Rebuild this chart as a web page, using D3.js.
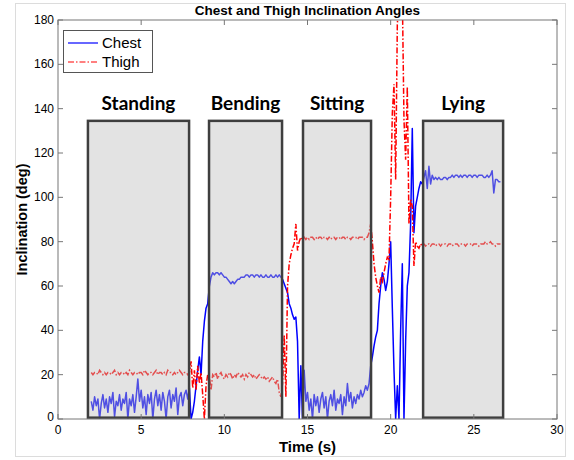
<!DOCTYPE html>
<html><head><meta charset="utf-8">
<script src="https://cdn.jsdelivr.net/npm/d3@7"></script>
<style>body{margin:0;background:#fff}svg{display:block}</style>
</head><body>
<script>
// ---- data ----
const sampleStart = 2.0, sampleStep = 0.1; // seconds
const chest = [
 8,4,10,6,9,0,7,11,5,9, 3,10,7,12,1,8,6,11,4,9, 7,12,0,9,6,11,3,10,18,8,
 13,5,10,2,11,7,12,0,9,13, 6,11,4,12,8,0,10,13,5,11, 8,14,2,10,12,6,11,13,9,14,
 0,3,8,15,22,28,20,35,44,50,52,60,
 64,66,65,66,66,65,66,65,64,64, 63,62,61,62,61,62,63,63,64,64, 64,65,65,64,65,65,64,65,65,64,
 65,64,64,65,64,64,65,64,64,65, 64,65,64,
 63,61,59,57,52,50,47,45,46,35,0,24,0,
 22,8,12,4,9,0,11,6,10,3, 9,12,5,10,0,8,11,6,13,4, 9,7,11,2,10,6,16,8,12,5, 10,7,11,9,13,10,12,15,13,
 16,24,28,33,37,40,52,60,66,63,58,62,70, 80,50,22,0,15,0,40,70,0,35, 60,66,88,131,84,96,100,104,107,106,
 109,112,104,114,106,110,108,109,108,109, 108,108,109,109,108,109,109,110,109,110,
 110,109,110,109,110,110,109,110,110,109, 110,110,109,110,110,110,109,109,110,109,
 110,112,102,108,108,107,107
];
const thigh = [
 21,20,21,21,20,22,21,20,21,20, 21,21,20,21,22,20,21,20,21,21, 20,21,20,22,21,20,21,21,20,21,
 21,20,22,21,20,21,21,20,21,22, 20,21,21,20,21,20,22,21,21,20, 21,20,21,22,21,20,21,21,20,21,
 26,14,22,13,24,16,21,11,0,15,20,19,
 13,20,19,21,18,20,21,19,18,20, 19,21,20,18,20,19,21,20,19,20, 18,20,19,21,20,19,20,18,19,20,
 19,18,19,18,19,17,18,19,17,16, 18,12,10,
 16,38,10,60,70,74,77,79,88,76,80,82,81,
 82,81,82,81,82,82,81,82,81,82, 82,81,82,82,81,82,81,82,82,81, 82,82,81,82,82,81,82,82,81,82, 82,82,81,82,82,82,81,82,82,
 84,88,80,70,64,60,57,64,62,66,70,73,72, 100,138,151,108,178,190,186,192,135,117, 150,88,99,96,69,80,78,77,79,78,
 79,78,79,79,78,79,79,78,79,79, 78,79,79,79,78,79,79,78,79,79,
 79,78,79,79,79,78,79,79,79,78, 79,79,79,78,79,79,79,80,79,79,
 80,79,79,78,79,79,79
];
const activities = ["Standing","Bending","Sitting","Lying"];
const boxStart = [1.8, 9.08, 14.73, 21.95];
const boxEnd   = [7.88, 13.47, 18.82, 26.76];
const boxTop = 134.5, boxBottom = 0.6;
const xTicks = [0,5,10,15,20,25,30];
const yTicks = [0,20,40,60,80,100,120,140,160,180];
const seriesNames = ["Chest","Thigh"];

// ---- layout ----
const W = 574, H = 460;
const L = 58, R = 557, T = 20, B = 419;
const svg = d3.select("body").append("svg").attr("width", W).attr("height", H)
  .style("font-family", "Arial, 'Liberation Sans', sans-serif");

svg.append("rect").attr("x",15.5).attr("y",3.5).attr("width",550).attr("height",453)
  .attr("fill","none").attr("stroke","#dcdcdc");

const x = d3.scaleLinear().domain([0,30]).range([L,R]);
const y = d3.scaleLinear().domain([0,180]).range([B,T]);

svg.append("defs").append("clipPath").attr("id","clip")
  .append("rect").attr("x",L).attr("y",T).attr("width",R-L).attr("height",B-T);

const tOf = i => sampleStart + i*sampleStep;
const line = d3.line().x((d,i)=>x(tOf(i))).y(d=>y(d));

const plot = svg.append("g").attr("clip-path","url(#clip)");
plot.append("path").datum(chest).attr("d", line)
  .attr("fill","none").attr("stroke","#0000ff").attr("stroke-width",1.5).attr("stroke-linejoin","round");
plot.append("path").datum(thigh).attr("d", line)
  .attr("fill","none").attr("stroke","#ff0000").attr("stroke-width",1.5)
  .attr("stroke-dasharray","6,2,1.5,2");

// activity boxes
const boxes = svg.append("g");
activities.forEach((a,i)=>{
  boxes.append("rect").attr("x",x(boxStart[i])).attr("y",y(boxTop))
    .attr("width",x(boxEnd[i])-x(boxStart[i])).attr("height",y(boxBottom)-y(boxTop))
    .attr("fill","#bdbdbd").attr("fill-opacity",0.42)
    .attr("stroke","#3f3f3f").attr("stroke-width",2.5);
  boxes.append("text").attr("x",(x(boxStart[i])+x(boxEnd[i]))/2).attr("y",y(boxTop)-11)
    .attr("text-anchor","middle").attr("font-family","Lato, 'Open Sans', sans-serif")
    .attr("font-weight","bold").attr("font-size",19).text(a);
});

// axes box
const axColor = "#777";
svg.append("rect").attr("x",L).attr("y",T).attr("width",R-L).attr("height",B-T)
  .attr("fill","none").attr("stroke",axColor).attr("stroke-width",1);
const ax = svg.append("g").attr("font-size",12).attr("fill","#000");
xTicks.forEach(v=>{
  ax.append("line").attr("x1",x(v)).attr("x2",x(v)).attr("y1",B).attr("y2",B-5).attr("stroke",axColor);
  ax.append("line").attr("x1",x(v)).attr("x2",x(v)).attr("y1",T).attr("y2",T+5).attr("stroke",axColor);
  ax.append("text").attr("x",x(v)).attr("y",B+15).attr("text-anchor","middle").text(v);
});
yTicks.forEach(v=>{
  ax.append("line").attr("x1",L).attr("x2",L+5).attr("y1",y(v)).attr("y2",y(v)).attr("stroke",axColor);
  ax.append("line").attr("x1",R).attr("x2",R-5).attr("y1",y(v)).attr("y2",y(v)).attr("stroke",axColor);
  ax.append("text").attr("x",L-4).attr("y",y(v)+(v===0?2:4)).attr("text-anchor","end").text(v);
});

// titles
svg.append("text").attr("x",(L+R)/2).attr("y",15).attr("text-anchor","middle")
  .attr("font-weight","bold").attr("font-size",13.5).text("Chest and Thigh Inclination Angles");
svg.append("text").attr("x",(L+R)/2).attr("y",452).attr("text-anchor","middle")
  .attr("font-weight","bold").attr("font-size",15).text("Time (s)");
svg.append("text").attr("transform",`translate(27,${(T+B)/2}) rotate(-90)`).attr("text-anchor","middle")
  .attr("font-weight","bold").attr("font-size",14.5).text("Inclination (deg)");

// legend
const lg = svg.append("g");
lg.append("rect").attr("x",63.5).attr("y",30.5).attr("width",89).attr("height",42)
  .attr("fill","#fff").attr("stroke","#555");
seriesNames.forEach((n,i)=>{
  const yy = 43 + i*19;
  lg.append("line").attr("x1",68).attr("x2",98).attr("y1",yy).attr("y2",yy)
    .attr("stroke", i===0?"#0000ff":"#ff0000").attr("stroke-width",1.2)
    .attr("stroke-dasharray", i===0?null:"6,2,1.5,2");
  lg.append("text").attr("x",102).attr("y",yy+5).attr("font-size",15).text(n);
});
</script>
</body></html>
